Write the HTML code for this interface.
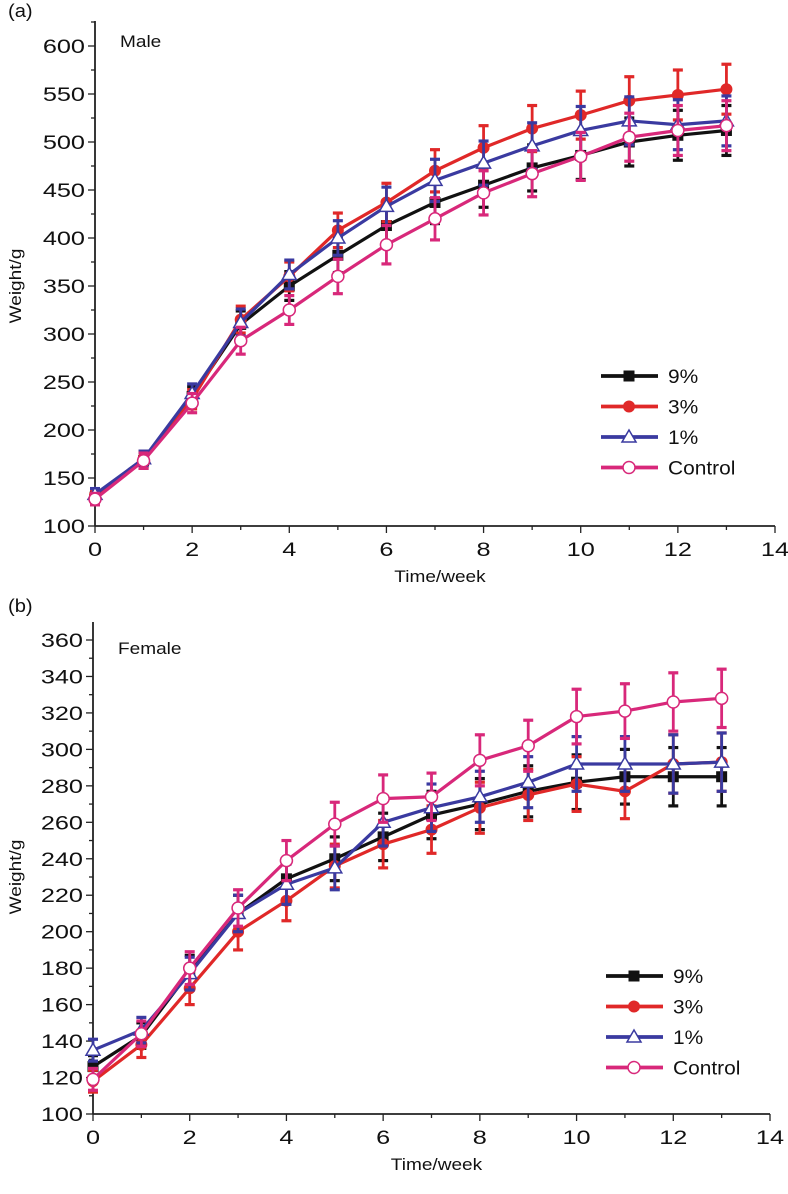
<!DOCTYPE html>
<html><head><meta charset="utf-8"><style>
body{margin:0;background:#fff;}
svg text{font-family:"Liberation Sans",Arial,sans-serif;fill:#111;}
</style></head><body>
<svg id="chart" width="788" height="1189" xmlns="http://www.w3.org/2000/svg"></svg>
<script>
const weeks=[0,1,2,3,4,5,6,7,8,9,10,11,12,13];
const seriesNames=["9%","3%","1%","Control"];
const maleTicks=[100,150,200,250,300,350,400,450,500,550,600];
const femaleTicks=[100,120,140,160,180,200,220,240,260,280,300,320,340,360];
const xTicks=[0,2,4,6,8,10,12,14];
const male9=[130,168,235,310,350,382,413,437,455,473,486,500,507,512];
const male3=[132,170,232,315,360,408,437,470,494,514,528,543,549,555];
const male1=[133,170,238,312,362,400,433,460,478,496,512,522,518,522];
const maleC=[128,168,228,293,325,360,393,420,447,467,485,505,512,517];
const maleErr=[6,8,10,14,15,18,20,22,23,24,25,25,26,26];
const fem9=[126,143,178,210,229,240,252,264,270,277,282,285,285,285];
const fem3=[118,138,169,200,217,236,248,256,268,275,281,277,292,293];
const fem1=[135,146,177,210,226,235,260,268,274,282,292,292,292,293];
const femC=[119,144,180,213,239,259,273,274,294,302,318,321,326,328];
const femErr=[6,7,9,10,11,12,13,13,14,14,15,15,16,16];
const colors=["#111","#e02828","#3a3aa0","#d8287a"];
const NS="http://www.w3.org/2000/svg";
const svg=document.getElementById('chart');
function mk(tag,attrs,parent){const e=document.createElementNS(NS,tag);for(const k in attrs)e.setAttribute(k,attrs[k]);(parent||svg).appendChild(e);return e;}
function txt(parent,attrs,s,stretch){const t=mk('text',attrs,parent);t.textContent=s;const w=t.getComputedTextLength();if(w>0){t.setAttribute('textLength',w*(stretch||1.12));t.setAttribute('lengthAdjust','spacingAndGlyphs');}return t;}
function panel(cfg){
  const g=mk('g',{});
  
  
  const xs=v=>cfg.x0+(v-0)*(cfg.x14-cfg.x0)/14;
  const ys=v=>cfg.yb+(v-cfg.ymin)*(cfg.yt-cfg.yb)/(cfg.ymax-cfg.ymin);
  mk('line',{x1:cfg.x0,y1:cfg.ytop,x2:cfg.x0,y2:cfg.yb,stroke:'#222','stroke-width':1.8},g);
  mk('line',{x1:cfg.x0,y1:cfg.yb,x2:cfg.x14,y2:cfg.yb,stroke:'#222','stroke-width':1.8},g);
  const step=cfg.ticks[1]-cfg.ticks[0];
  for(let v=cfg.ymin;v<=cfg.ymax+step/2+0.01;v+=step/2){const y=ys(v);if(y<cfg.ytop)break;const major=Math.abs((v-cfg.ymin)%step)<0.01;mk('line',{x1:cfg.x0-(major?7:4),y1:y,x2:cfg.x0,y2:y,stroke:'#222','stroke-width':1.3},g);}
  cfg.ticks.forEach(v=>{txt(g,{x:cfg.x0-10,y:ys(v)+7,'text-anchor':'end','font-size':19},v,1.33);});
  for(let w=0;w<=14;w++){mk('line',{x1:xs(w),y1:cfg.yb,x2:xs(w),y2:cfg.yb+(w%2?4:7),stroke:'#222','stroke-width':1.3},g);}
  xTicks.forEach(v=>{txt(g,{x:xs(v),y:cfg.yb+30,'text-anchor':'middle','font-size':19},v,1.33);});
  txt(g,{x:(cfg.x0+cfg.x14)/2+5,y:cfg.xtY,'text-anchor':'middle','font-size':17},'Time/week');
  const yc=(cfg.yt+cfg.yb)/2;
  txt(g,{x:0,y:0,'text-anchor':'middle','font-size':17,transform:`translate(21,${yc}) rotate(-90)`},'Weight/g');
  txt(g,{x:8,y:cfg.labY,'font-size':18},cfg.label);
  txt(g,{x:cfg.x0+25,y:cfg.subY,'font-size':17},cfg.sub);
  cfg.series.forEach((data,i)=>{
    const sg=mk('g',{},g);
    
    
    data.forEach((v,j)=>{const x=xs(weeks[j]);const e=cfg.err[j];
      mk('line',{x1:x,y1:ys(v-e),x2:x,y2:ys(v+e),stroke:colors[i],'stroke-width':2.8},sg);
      mk('line',{x1:x-5,y1:ys(v+e),x2:x+5,y2:ys(v+e),stroke:colors[i],'stroke-width':3.2},sg);
      mk('line',{x1:x-5,y1:ys(v-e),x2:x+5,y2:ys(v-e),stroke:colors[i],'stroke-width':3.2},sg);});
    mk('polyline',{points:data.map((v,j)=>xs(weeks[j])+','+ys(v)).join(' '),fill:'none',stroke:colors[i],'stroke-width':3.2},sg);
    data.forEach((v,j)=>marker(sg,i,xs(weeks[j]),ys(v)));
  });
  const lg=mk('g',{},g);
  
  
  seriesNames.forEach((n,i)=>{const y=cfg.legY+i*30.5;
    mk('line',{x1:cfg.legX,y1:y,x2:cfg.legX+57,y2:y,stroke:colors[i],'stroke-width':3.8},lg);
    marker(lg,i,cfg.legX+28,y);
    txt(lg,{x:cfg.legX+67,y:y+7,'font-size':19},n,1.1);});
}
function marker(p,i,x,y){
  if(i===0)mk('rect',{x:x-5.5,y:y-5.5,width:11,height:11,fill:colors[0]},p);
  else if(i===1)mk('circle',{cx:x,cy:y,r:6,fill:colors[1]},p);
  else if(i===2)mk('path',{d:`M${x},${y-7}L${x+7},${y+5}L${x-7},${y+5}Z`,fill:'#fff',stroke:colors[2],'stroke-width':1.5},p);
  else mk('circle',{cx:x,cy:y,r:6,fill:'#fff',stroke:colors[3],'stroke-width':1.5},p);
}
panel({name:'male-panel',label:'(a)',labY:17,sub:'Male',subY:47,x0:95,x14:775,yb:526,yt:46,ytop:21,ymin:100,ymax:600,ticks:maleTicks,series:[male9,male3,male1,maleC],err:maleErr,legX:601,legY:376,xtY:582});
panel({name:'female-panel',label:'(b)',labY:612,sub:'Female',subY:654,x0:93,x14:770,yb:1114,yt:640,ytop:622,ymin:100,ymax:360,ticks:femaleTicks,series:[fem9,fem3,fem1,femC],err:femErr,legX:606,legY:976,xtY:1170});
</script>
</body></html>
